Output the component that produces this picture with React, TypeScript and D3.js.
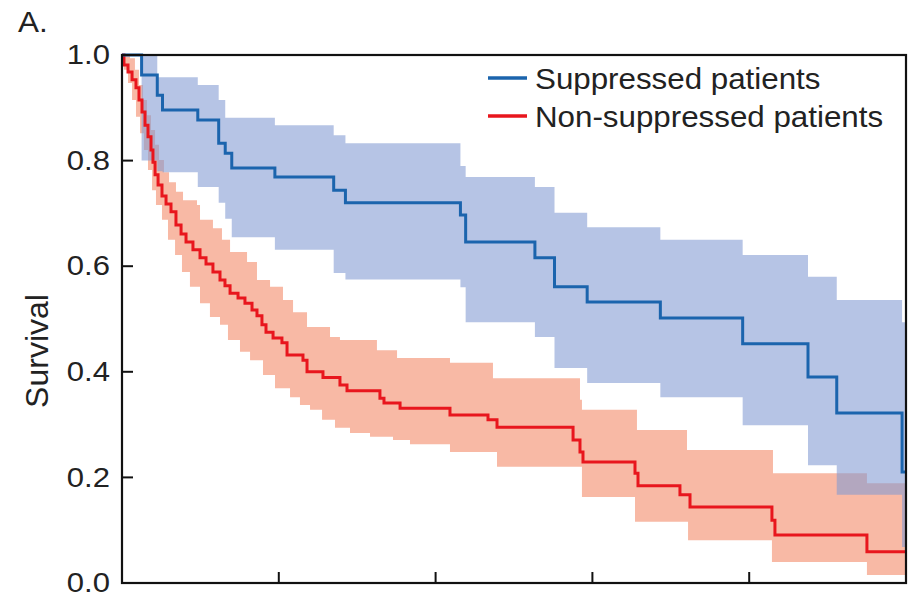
import * as d3 from "d3";

// time axis in months, no labels on the x ticks
const xMax = 60;
const xTicks = [12, 24, 36, 48];
const yTicks = [0, 0.2, 0.4, 0.6, 0.8, 1.0];
const yTickLabels = ["0.0", "0.2", "0.4", "0.6", "0.8", "1.0"];

// Suppressed patients (KM estimate + CI, same event times)
const suppTime = [0, 1.5, 2.7, 3.1, 5.8, 7.4, 7.9, 8.4, 11.7, 16.2, 17.1, 25.9, 26.3, 31.6, 33.1, 35.6, 41.2, 47.5, 52.5, 54.7, 59.7];
const suppSurv = [1, 0.962, 0.924, 0.896, 0.877, 0.833, 0.814, 0.786, 0.769, 0.744, 0.72, 0.697, 0.646, 0.616, 0.561, 0.532, 0.502, 0.453, 0.39, 0.322, 0.21];
const suppUpper = [1, 1, 0.958, 0.958, 0.943, 0.915, 0.881, 0.881, 0.867, 0.848, 0.833, 0.79, 0.769, 0.75, 0.701, 0.674, 0.65, 0.621, 0.58, 0.536, 0.494];
const suppLower = [1, 0.8, 0.78, 0.778, 0.75, 0.72, 0.69, 0.655, 0.631, 0.587, 0.575, 0.56, 0.494, 0.466, 0.407, 0.379, 0.352, 0.299, 0.223, 0.167, 0.068];

// Non-suppressed patients
const nonTime = [0, 0.15, 0.46, 0.77, 1.07, 1.3, 1.53, 1.76, 1.99, 2.22, 2.37, 2.53, 2.76, 3.06, 3.37, 3.75, 4.13, 4.52, 4.9, 5.43, 5.97, 6.43, 6.96, 7.5, 7.88, 8.27, 8.88, 9.41, 9.95, 10.33, 10.71, 11.02, 11.56, 12.24, 12.63, 13.85, 14.16, 15.38, 16.68, 17.22, 19.74, 20.05, 21.28, 25.1, 28.01, 28.7, 34.52, 35.05, 35.28, 39.26, 39.49, 42.7, 43.47, 49.74, 49.97, 57.01];
const nonSurv = [1, 0.981, 0.968, 0.953, 0.938, 0.915, 0.892, 0.867, 0.845, 0.82, 0.797, 0.773, 0.754, 0.733, 0.718, 0.703, 0.678, 0.661, 0.646, 0.631, 0.616, 0.604, 0.589, 0.574, 0.563, 0.549, 0.54, 0.53, 0.517, 0.506, 0.489, 0.475, 0.464, 0.455, 0.432, 0.422, 0.4, 0.389, 0.375, 0.364, 0.35, 0.341, 0.331, 0.318, 0.309, 0.295, 0.271, 0.248, 0.229, 0.208, 0.184, 0.167, 0.144, 0.119, 0.091, 0.059];
const nonUpperTime = [0, 0.61, 0.99, 1.3, 1.61, 1.91, 2.22, 2.53, 2.83, 3.21, 3.6, 4.13, 4.67, 5.74, 5.97, 6.96, 7.65, 8.27, 9.57, 10.33, 11.33, 12.32, 13.09, 14.16, 15.92, 16.68, 19.51, 21.05, 25.1, 28.39, 35.05, 35.2, 39.41, 43.24, 49.82, 57.01];
const nonUpper = [1, 0.994, 0.972, 0.943, 0.915, 0.886, 0.858, 0.83, 0.801, 0.778, 0.759, 0.741, 0.725, 0.716, 0.688, 0.672, 0.65, 0.627, 0.608, 0.574, 0.561, 0.536, 0.513, 0.485, 0.466, 0.46, 0.441, 0.426, 0.417, 0.388, 0.347, 0.328, 0.29, 0.252, 0.208, 0.189];
const nonLowerTime = [0, 0.15, 0.46, 0.77, 1.07, 1.38, 1.68, 1.99, 2.3, 2.6, 3.06, 3.52, 4.06, 4.59, 5.2, 5.97, 6.73, 7.5, 8.11, 9.03, 9.8, 10.79, 11.71, 12.86, 13.62, 14.39, 15.31, 16.3, 17.45, 18.98, 20.74, 22.04, 25.1, 28.7, 35.2, 39.26, 43.32, 49.74, 57.01];
const nonLower = [1, 0.972, 0.947, 0.915, 0.883, 0.852, 0.82, 0.782, 0.744, 0.716, 0.688, 0.65, 0.621, 0.589, 0.561, 0.53, 0.504, 0.489, 0.46, 0.438, 0.422, 0.394, 0.369, 0.352, 0.337, 0.328, 0.309, 0.294, 0.284, 0.277, 0.271, 0.263, 0.248, 0.22, 0.163, 0.116, 0.081, 0.04, 0.015];

const BLUE = "#1b64ad";
const RED = "#e8161d";
const FONT = "'Liberation Sans', Arial, Helvetica, sans-serif";

// value of a right-continuous step function at t
const stepAt = (times: number[], vals: number[], t: number) => {
  const i = d3.bisectRight(times, t) - 1;
  return vals[Math.max(0, i)];
};

const bandData = (ut: number[], uv: number[], lt: number[], lv: number[]) => {
  const ts = Array.from(new Set([...ut, ...lt, xMax])).sort((a, b) => a - b);
  return ts.map(t => ({ t, u: stepAt(ut, uv, t), l: stepAt(lt, lv, t) }));
};

const lineData = (times: number[], vals: number[]) => {
  const pts = times.map((t, i) => [t, vals[i]] as [number, number]);
  pts.push([xMax, vals[vals.length - 1]]);
  return pts;
};

export default function App() {
  const width = 914;
  const height = 597;
  const x = d3.scaleLinear().domain([0, xMax]).range([122, 906]);
  const y = d3.scaleLinear().domain([0, 1]).range([583, 55]);

  const area = d3
    .area<{ t: number; u: number; l: number }>()
    .x(d => x(d.t))
    .y0(d => y(d.l))
    .y1(d => y(d.u))
    .curve(d3.curveStepAfter);

  const line = d3
    .line<[number, number]>()
    .x(d => x(d[0]))
    .y(d => y(d[1]))
    .curve(d3.curveStepAfter);

  const suppBand = bandData(suppTime, suppUpper, suppTime, suppLower);
  const nonBand = bandData(nonUpperTime, nonUpper, nonLowerTime, nonLower);

  return (
    <svg
      width={width}
      height={height}
      style={{ position: "absolute", left: 0, top: 0, background: "#fff" }}
      fontFamily={FONT}
    >
      <path d={area(nonBand) ?? ""} fill="#f8b9a5" />
      <path d={area(suppBand) ?? ""} fill="#8299d2" fillOpacity={0.58} />
      <path d={line(lineData(nonTime, nonSurv)) ?? ""} fill="none" stroke={RED} strokeWidth={3} />
      <path d={line(lineData(suppTime, suppSurv)) ?? ""} fill="none" stroke={BLUE} strokeWidth={3} />

      {/* frame */}
      <rect x={x(0)} y={y(1)} width={x(xMax) - x(0)} height={y(0) - y(1)} fill="none" stroke="#111" strokeWidth={2.2} />

      {yTicks.map((v, i) => (
        <g key={v}>
          <line x1={x(0)} x2={x(0) + 11} y1={y(v)} y2={y(v)} stroke="#111" strokeWidth={2} />
          <text
            transform={`translate(110,${y(v)}) scale(1.15,1)`}
            textAnchor="end"
            dominantBaseline="central"
            fontSize={27}
            fill="#222"
          >
            {yTickLabels[i]}
          </text>
        </g>
      ))}
      {xTicks.map(v => (
        <line key={v} x1={x(v)} x2={x(v)} y1={y(0)} y2={y(0) - 11} stroke="#111" strokeWidth={2} />
      ))}

      <text transform="translate(48,351) rotate(-90)" textAnchor="middle" fontSize={32} fill="#222">
        Survival
      </text>
      <text transform="translate(18,32) scale(1.05,1)" fontSize={30} fill="#222">
        A.
      </text>

      {/* legend */}
      <line x1={488} x2={527} y1={78} y2={78} stroke={BLUE} strokeWidth={3.5} />
      <text transform="translate(535,89) scale(1.08,1)" fontSize={29} fill="#222">
        Suppressed patients
      </text>
      <line x1={488} x2={527} y1={116} y2={116} stroke={RED} strokeWidth={3.5} />
      <text transform="translate(535,127) scale(1.08,1)" fontSize={29} fill="#222">
        Non-suppressed patients
      </text>
    </svg>
  );
}
